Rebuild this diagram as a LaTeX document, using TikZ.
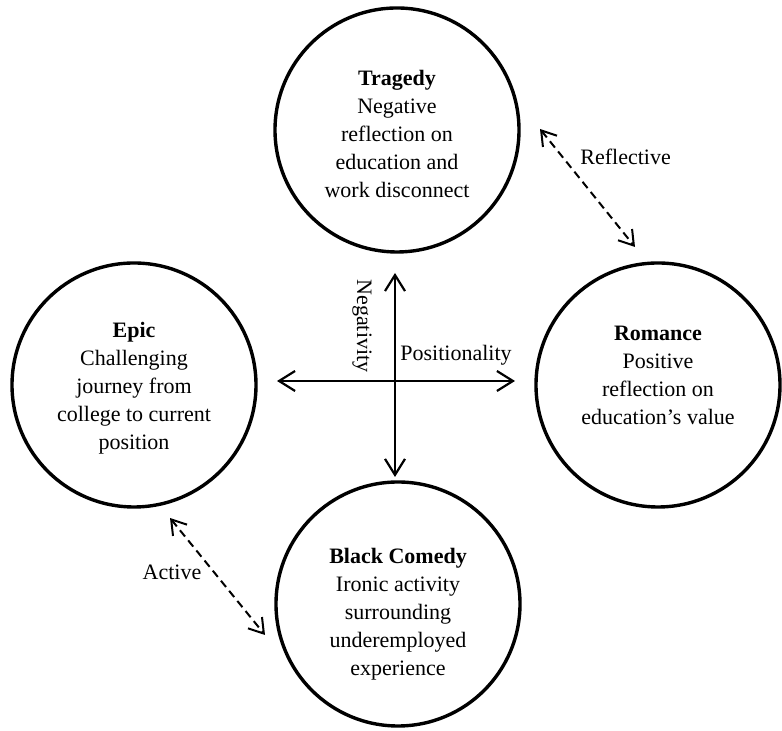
\documentclass[tikz,border=0pt]{standalone}
\usepackage{fontspec}
\setmainfont{Liberation Serif}
\usetikzlibrary{arrows.meta}
\begin{document}
\begin{tikzpicture}[x=0.5pt,y=0.5pt,every node/.style={font=\fontsize{11}{14}\selectfont},
  genre/.style={circle,draw,line width=1.7pt,minimum size=122pt,inner sep=0pt,align=center},
  axis/.style={line width=1.1pt,{Straight Barb[length=8pt,width=10pt]}-{Straight Barb[length=8pt,width=10pt]}},
  link/.style={line width=1pt,dash pattern=on 4pt off 2.5pt,{Straight Barb[length=7pt,width=9pt]}-{Straight Barb[length=7pt,width=9pt]}}]
\useasboundingbox (0,0) rectangle (782,731);
% four genres
\node[genre] (tragedy) at (397,601) {\rule{0pt}{11.6pt}\textbf{Tragedy}\\Negative\\reflection on\\education and\\work disconnect};
\node[genre] (epic) at (134,346) {\rule{0pt}{10.6pt}\textbf{Epic}\\Challenging\\journey from\\college to current\\position};
\node[genre] (romance) at (658,346) {\textbf{Romance}\\Positive\\reflection on\\education’s value\rule[-10pt]{0pt}{0pt}};
\node[genre] (comedy) at (398,127) {\rule{0pt}{18pt}\textbf{Black Comedy}\\Ironic activity\\surrounding\\underemployed\\experience};
% axes
\coordinate (negtop) at (395,458);
\coordinate (negbot) at (395,254);
\coordinate (posleft) at (277,350);
\coordinate (posright) at (515,350);
\draw[axis] (negtop) -- (negbot);
\draw[axis] (posleft) -- (posright);
\node[rotate=-90] (neg) at (362,405) {Negativity};
\node[anchor=west,inner sep=0pt] (pos) at (400,376) {Positionality};
% dashed links
\coordinate (refla) at (540,602);
\coordinate (reflb) at (635,484);
\coordinate (acta) at (170,213);
\coordinate (actb) at (265,96);
\draw[link] (refla) -- (reflb);
\draw[link] (acta) -- (actb);
\node[anchor=west,inner sep=0pt] (refl) at (580,574) {Reflective};
\node[inner sep=0pt] (act) at (172,159) {Active};
\end{tikzpicture}
\end{document}
